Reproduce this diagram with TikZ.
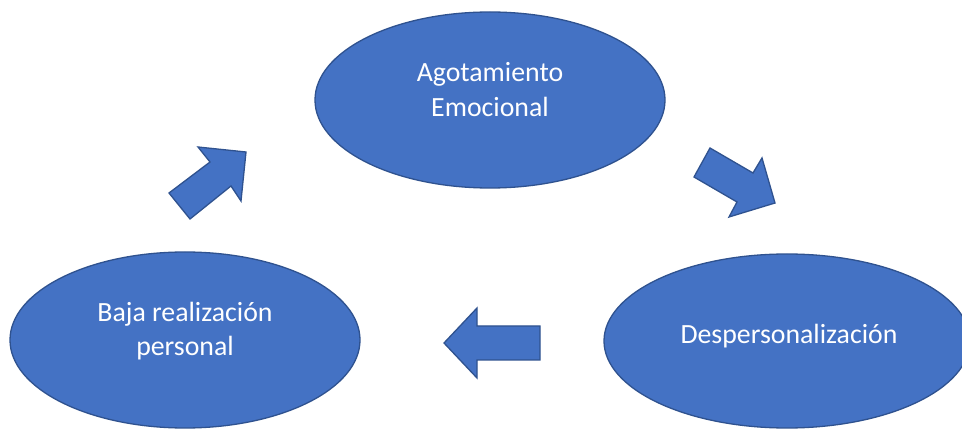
\documentclass[tikz,border=0pt]{standalone}
\usepackage{fontspec}
\setmainfont{Carlito}
\usetikzlibrary{shapes.geometric}
\definecolor{boxfill}{HTML}{4472C4}
\definecolor{boxline}{HTML}{2F528F}
\tikzset{
  ell/.style={ellipse, fill=boxfill, draw=boxline, line width=1.3pt, inner sep=0pt},
  txt/.style={text=white, font=\fontsize{27.8}{34}\selectfont, inner sep=0pt, anchor=base},
  blockarrow/.style={fill=boxfill, draw=boxline, line width=1.3pt, line join=miter}
}
\begin{document}
\begin{tikzpicture}[x=1pt,y=-1pt]
\useasboundingbox (0,0) rectangle (962,430);
\clip (0,0) rectangle (962,430);
\fill[white] (0,0) rectangle (962,430);
% ellipses
\node[ell, minimum width=350pt, minimum height=176pt] (ae) at (490,100) {};
\node[ell, minimum width=350pt, minimum height=176pt] (br) at (185,340) {};
\node[ell, minimum width=366pt, minimum height=174pt] (dp) at (787,341) {};
% texts
\node[txt] (ae1) at (490,82) {Agotamiento};
\node[txt] (ae2) at (490,117) {Emocional};
\node[txt] (br1) at (185,322) {Baja realización};
\node[txt] (br2) at (185,356) {personal};
\node[txt] (dp1) at (789,344) {Despersonalización};
% block arrows
\draw[blockarrow] (169,193) -- (210,162) -- (198,147) -- (246,152) -- (241,201) -- (231,186) -- (190,219) -- cycle;
\draw[blockarrow] (710,148) -- (753,173) -- (762,158) -- (775,203) -- (729,217) -- (737,202) -- (694,177) -- cycle;
\draw[blockarrow] (540,326) -- (477,326) -- (477,308) -- (444,343) -- (477,378) -- (477,360) -- (540,360) -- cycle;
\end{tikzpicture}
\end{document}
